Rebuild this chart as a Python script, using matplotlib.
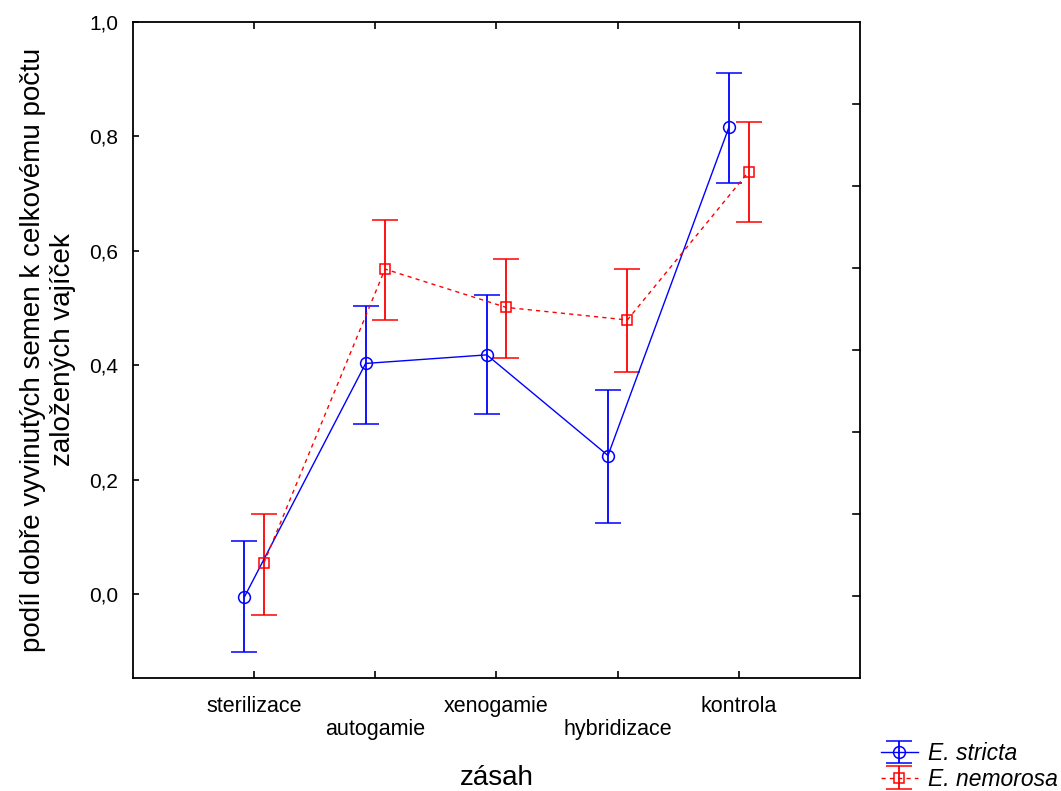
import matplotlib
matplotlib.use("Agg")
import matplotlib.pyplot as plt
from matplotlib.ticker import FixedLocator, FuncFormatter
import numpy as np

# Treatments (zásah) and mean proportions with confidence limits
categories = ["sterilizace", "autogamie", "xenogamie", "hybridizace", "kontrola"]

stricta_mean = [-0.005, 0.403, 0.418, 0.242, 0.817]
stricta_low = [-0.102, 0.297, 0.315, 0.124, 0.719]
stricta_high = [0.093, 0.503, 0.522, 0.357, 0.910]

nemorosa_mean = [0.054, 0.568, 0.501, 0.479, 0.738]
nemorosa_low = [-0.037, 0.479, 0.412, 0.388, 0.650]
nemorosa_high = [0.139, 0.653, 0.586, 0.568, 0.826]

y_ticks = [0.0, 0.2, 0.4, 0.6, 0.8, 1.0]

plt.rcParams["font.family"] = ["Liberation Sans", "DejaVu Sans"]

W, H = 1061, 791
fig = plt.figure(figsize=(W / 100, H / 100), dpi=100)
ax = fig.add_axes([133 / W, 1 - 678 / H, (860 - 133) / W, (678 - 22) / H])

x = np.arange(len(categories))
shift = 0.08


def draw(xpos, mean, low, high, color, marker, ls, label):
    mean = np.asarray(mean)
    yerr = [mean - np.asarray(low), np.asarray(high) - mean]
    return ax.errorbar(xpos, mean, yerr=yerr, color=color, ecolor=color,
                       marker=marker, markersize=8.5 if marker == "o" else 7.5,
                       markerfacecolor="none", markeredgecolor=color,
                       markeredgewidth=1.1, linestyle=ls, linewidth=1.0,
                       elinewidth=1.3, capsize=9.5, capthick=1.3,
                       label=label)


h1 = draw(x - shift, stricta_mean, stricta_low, stricta_high,
          "#0000ff", "o", "-", "E. stricta")
h2 = draw(x + shift, nemorosa_mean, nemorosa_low, nemorosa_high,
          "#ff0000", "s", (0, (3, 3)), "E. nemorosa")

ax.set_xlim(-1, 5)
ax.set_ylim(-0.147, 1.0)

# Left axis: labelled ticks with decimal comma
ax.yaxis.set_major_locator(FixedLocator(y_ticks))
ax.yaxis.set_major_formatter(FuncFormatter(lambda v, p: f"{v:.1f}".replace(".", ",")))
ax.tick_params(axis="y", direction="in", length=4, width=1.2, labelsize=15, pad=10.8,
               left=True, right=False)

# Category ticks on bottom and top, labels staggered on two rows
ax.set_xticks(x)
ax.set_xticklabels([c if i % 2 == 0 else "\n" + c for i, c in enumerate(categories)],
                   fontsize=15.5, linespacing=1.12)
ax.tick_params(axis="x", direction="in", length=5, width=1.2, pad=13,
               top=True, bottom=True)

# Unlabelled ticks on the right side, dividing the height into eighths
for k in range(1, 8):
    ax.plot([1 - 7 / 727, 1.0], [k / 8, k / 8], transform=ax.transAxes,
            color="black", lw=1.2, clip_on=False)

for s in ax.spines.values():
    s.set_linewidth(1.3)

ax.set_xlabel("zásah", fontsize=20)
ax.xaxis.set_label_coords(0.5, (678 - 785) / 656)
ax.xaxis.label.set_verticalalignment("baseline")

ax.set_ylabel("podíl dobře vyvinutých semen k celkovému počtu\nzaložených vajíček",
              fontsize=20, linespacing=1.2)
ax.yaxis.set_label_coords((76 - 133) / 727, 0.5)

leg = fig.legend(handles=[h1, h2], loc="upper left",
                 bbox_to_anchor=(881 / W, 1 - 742 / H), frameon=False,
                 prop={"style": "italic", "size": 16.5}, handlelength=1.6,
                 labelspacing=0.12, handletextpad=0.45, borderaxespad=0,
                 borderpad=0)

fig.savefig("out.png", dpi=100, facecolor="white")
